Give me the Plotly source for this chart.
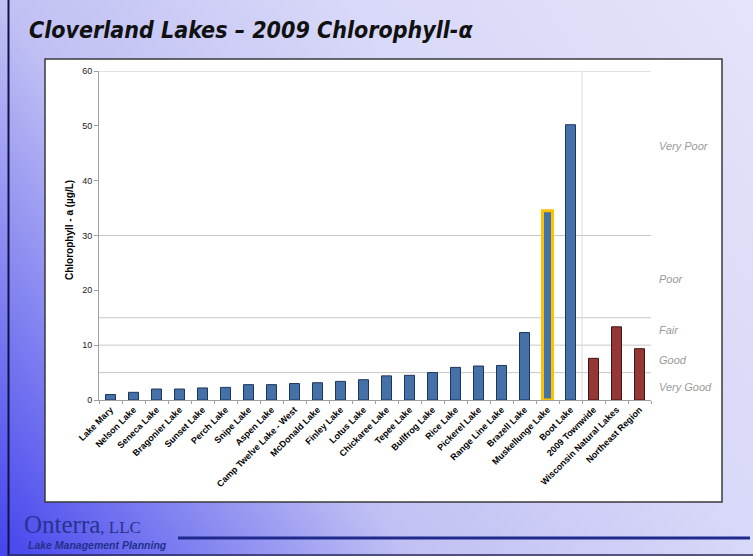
import base64
import plotly.graph_objects as go

# ---------------- data ----------------
lakes = ["Lake Mary", "Nelson Lake", "Seneca Lake", "Bragonier Lake", "Sunset Lake",
         "Perch Lake", "Snipe Lake", "Aspen Lake", "Camp Twelve Lake - West",
         "McDonald Lake", "Finley Lake", "Lotus Lake", "Chickaree Lake", "Tepee Lake",
         "Bullfrog Lake", "Rice Lake", "Pickerel Lake", "Range Line Lake",
         "Brazell Lake", "Muskellunge Lake", "Boot Lake"]
lake_values = [1.0, 1.4, 2.0, 2.0, 2.2, 2.3, 2.8, 2.8, 3.0, 3.15, 3.4, 3.7, 4.4, 4.5,
               5.0, 5.95, 6.2, 6.3, 12.3, 34.5, 50.2]
reference = ["2009 Townwide", "Wisconsin Natural Lakes", "Northeast Region"]
reference_values = [7.6, 13.35, 9.35]
highlight = "Muskellunge Lake"

thresholds = [5, 10, 15, 30, 60]
class_labels = ["Very Good", "Good", "Fair", "Poor", "Very Poor"]
class_label_y = [2.4, 7.3, 12.7, 22.0, 46.4]
y_ticks = [0, 10, 20, 30, 40, 50, 60]

# ---------------- geometry helpers ----------------
W, H = 753, 556
ML, MR, MT, MB = 99, 102, 71, 156
PW, PH = W - ML - MR, H - MT - MB


def px(x):
    return (x - ML) / PW


def py(y):
    return (H - MB - y) / PH


categories = lakes + reference
values = lake_values + reference_values
fill = ["#4571A9"] * len(lakes) + ["#953735"] * len(reference)
edge = ["#1E3559"] * len(lakes) + ["#3E1414"] * len(reference)
edge_w = [1] * len(categories)
hi = categories.index(highlight)
edge[hi] = "#FFC000"
edge_w[hi] = 3

fig = go.Figure()
fig.add_trace(go.Bar(
    x=categories, y=values,
    marker=dict(color=fill, line=dict(color=edge, width=edge_w)),
    hoverinfo="skip",
))

# background gradient image (slide)
svg = f"""<svg xmlns='http://www.w3.org/2000/svg' width='{W}' height='{H}' viewBox='0 0 {W} {H}' preserveAspectRatio='none'>
<defs><linearGradient id='g' gradientUnits='userSpaceOnUse' x1='0' y1='{H}' x2='{W}' y2='0'>
<stop offset='0' stop-color='#4444EE'/>
<stop offset='0.35' stop-color='#C0C0F4'/>
<stop offset='0.65' stop-color='#D8D8F8'/>
<stop offset='1' stop-color='#E3E3FA'/>
</linearGradient></defs>
<rect x='0' y='0' width='{W}' height='{H}' fill='url(#g)'/>
</svg>"""
src = "data:image/svg+xml;base64," + base64.b64encode(svg.encode()).decode()

fig.add_layout_image(dict(
    source=src, xref="paper", yref="paper", x=px(0), y=py(0),
    sizex=W / PW, sizey=H / PH, sizing="stretch",
    xanchor="left", yanchor="top", layer="below",
))

shapes = []
# chart box
shapes.append(dict(type="rect", xref="paper", yref="paper",
                   x0=px(45), x1=px(722), y0=py(59), y1=py(502),
                   fillcolor="white", line=dict(color="#3A3A3A", width=1.5), layer="below"))
# threshold lines
for t in thresholds:
    shapes.append(dict(type="line", xref="paper", yref="y", x0=0, x1=1, y0=t, y1=t,
                       line=dict(color="#C8C8C8", width=1), layer="below"))
# separator between lakes and reference values
shapes.append(dict(type="line", xref="x", yref="y", x0=len(lakes) - 0.5, x1=len(lakes) - 0.5,
                   y0=0, y1=60, line=dict(color="#D9D9D9", width=1), layer="below"))
# left dark edge and bottom edge of slide
shapes.append(dict(type="line", xref="paper", yref="paper", x0=px(8.5), x1=px(8.5),
                   y0=py(0), y1=py(556), line=dict(color="#12124A", width=2)))
shapes.append(dict(type="line", xref="paper", yref="paper", x0=px(8), x1=px(753),
                   y0=py(555), y1=py(555), line=dict(color="#2A2A5A", width=1.5)))
# logo underline
shapes.append(dict(type="line", xref="paper", yref="paper", x0=px(178), x1=px(750),
                   y0=py(538), y1=py(538), line=dict(color="#1F2A8C", width=3)))
fig.update_layout(shapes=shapes)

ann = []
ann.append(dict(text="<b><i>Cloverland Lakes – 2009 Chlorophyll-α</i></b>",
                xref="paper", yref="paper", x=px(27), y=py(30), xanchor="left", yanchor="middle",
                showarrow=False,
                font=dict(family="DejaVu Sans Condensed, Liberation Sans Narrow, DejaVu Sans",
                          size=23, color="#111111")))
ann.append(dict(text="<b>Chlorophyll - a (µg/L)</b>", textangle=-90,
                xref="paper", yref="y", x=px(69), y=31, xanchor="center", yanchor="middle",
                showarrow=False, font=dict(family="Liberation Sans", size=10, color="#000000")))
for lab, yv in zip(class_labels, class_label_y):
    ann.append(dict(text=f"<i>{lab}</i>", xref="paper", yref="y", x=px(657), y=yv,
                    xanchor="left", yanchor="middle", showarrow=False,
                    font=dict(family="Liberation Sans", size=11, color="#9A9A9A")))
ann.append(dict(text="Onterra<span style='font-size:17px'>, LLC</span>",
                xref="paper", yref="paper", x=px(22), y=py(524), xanchor="left", yanchor="middle",
                showarrow=False, font=dict(family="Liberation Serif", size=25, color="#26338F")))
ann.append(dict(text="<b><i>Lake Management Planning</i></b>",
                xref="paper", yref="paper", x=px(26), y=py(545), xanchor="left", yanchor="middle",
                showarrow=False, font=dict(family="Liberation Sans", size=10.5, color="#23308C")))
fig.update_layout(annotations=ann)

fig.update_layout(
    width=W, height=H,
    margin=dict(l=ML, r=MR, t=MT, b=MB, pad=0),
    paper_bgcolor="#D0D0F6", plot_bgcolor="rgba(0,0,0,0)",
    bargap=0.565, showlegend=False,
    font=dict(family="Liberation Sans, Arial", size=9, color="#000"),
    xaxis=dict(type="category", tickangle=-45, showgrid=False, showline=True,
               linecolor="#A0A0A0", linewidth=1, ticks="outside", tickson="boundaries",
               ticklen=3, tickcolor="#A0A0A0",
               tickfont=dict(family="Liberation Sans", size=9, color="#000", weight="bold")),
    yaxis=dict(range=[0, 60], tickvals=y_ticks, showgrid=False, zeroline=False,
               showline=True, linecolor="#A0A0A0", linewidth=1, ticks="outside",
               ticklen=4, tickcolor="#A0A0A0",
               tickfont=dict(family="Liberation Sans", size=9, color="#222")),
)

fig.write_html("out.html", config={"displayModeBar": False},
               post_script="document.body.style.margin='0';document.body.style.overflow='hidden';")
